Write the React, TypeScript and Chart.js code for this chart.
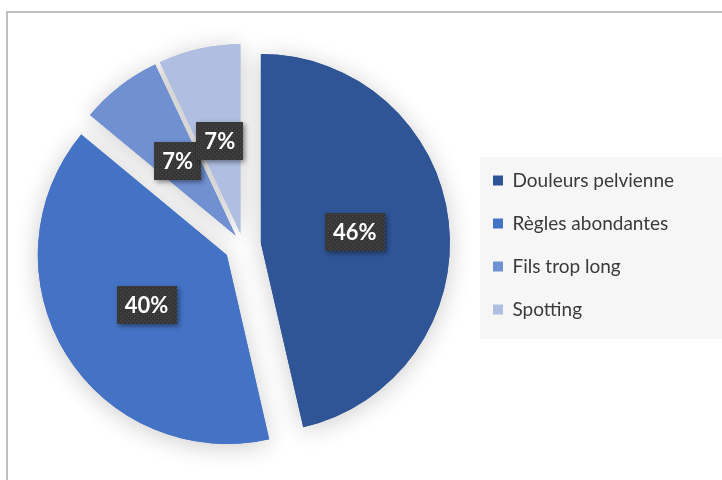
import React, { useEffect, useRef } from "react";
import { Chart, registerables } from "chart.js";

Chart.register(...registerables);

const categories = ["Douleurs pelvienne", "Règles abondantes", "Fils trop long", "Spotting"];
const values = [46.4, 39.6, 7, 7];
const sliceColors = ["#2f5597", "#4472c4", "#7090d1", "#afbee1"];

const FONT = "Lato, 'Open Sans', sans-serif";
const EXPLODE_OFFSETS = [18, 19, 12, 12];
const LEGEND_WIDTH = 253;

function makePattern(ctx: CanvasRenderingContext2D) {
  const c = document.createElement("canvas");
  c.width = 4;
  c.height = 4;
  const p = c.getContext("2d")!;
  p.fillStyle = "#363636";
  p.fillRect(0, 0, 4, 4);
  p.fillStyle = "#4e4e4e";
  p.fillRect(0, 0, 1, 1);
  p.fillRect(2, 2, 1, 1);
  return ctx.createPattern(c, "repeat") || "#3a3a3a";
}

const framePlugin = {
  id: "frame",
  beforeDraw(chart: any) {
    const ctx = chart.ctx as CanvasRenderingContext2D;
    ctx.save();
    ctx.fillStyle = "#ffffff";
    ctx.fillRect(0, 0, chart.width, chart.height);
    ctx.fillStyle = "#c0c0c0";
    ctx.fillRect(6, 11, chart.width - 6, 2);
    ctx.fillRect(6, 11, 2, chart.height - 11);
    const lg = chart.legend;
    if (lg) {
      ctx.fillStyle = "#f6f6f6";
      ctx.fillRect(lg.left + 11, 157, chart.width - lg.left - 11, 182);
    }
    ctx.restore();
  },
};

const legendWidthPlugin = {
  id: "legendWidth",
  beforeLayout(chart: any) {
    const lg = chart.legend;
    if (lg && !lg._fixedWidth) {
      const orig = lg.fit;
      lg.fit = function () {
        orig.call(this);
        this.width = LEGEND_WIDTH;
      };
      lg._fixedWidth = true;
    }
  },
};

const explodePlugin = {
  id: "explode",
  beforeDatasetDraw(chart: any, args: any) {
    const ctx = chart.ctx as CanvasRenderingContext2D;
    const arcs = args.meta.data;
    const pass = (shadow: boolean) => {
      arcs.forEach((arc: any, i: number) => {
        const { startAngle, endAngle } = arc.getProps(["startAngle", "endAngle"], true);
        const mid = (startAngle + endAngle) / 2;
        const off = EXPLODE_OFFSETS[i] || 0;
        ctx.save();
        if (shadow) {
          ctx.shadowColor = "rgba(0,0,0,0.2)";
          ctx.shadowBlur = 24;
          ctx.shadowOffsetX = 0;
          ctx.shadowOffsetY = 3;
        }
        ctx.translate(Math.cos(mid) * off, Math.sin(mid) * off);
        arc.draw(ctx, chart.chartArea);
        ctx.restore();
      });
    };
    pass(true);
    pass(false);
    return false;
  },
};

const labelPlugin = {
  id: "pctLabels",
  afterDatasetsDraw(chart: any) {
    const ctx = chart.ctx as CanvasRenderingContext2D;
    const meta = chart.getDatasetMeta(0);
    const data = chart.data.datasets[0].data as number[];
    const total = data.reduce((a, b) => a + b, 0);
    const pattern = makePattern(ctx);
    meta.data.forEach((arc: any, i: number) => {
      const { x, y, startAngle, endAngle, outerRadius } = arc.getProps(
        ["x", "y", "startAngle", "endAngle", "outerRadius"],
        true
      );
      const mid = (startAngle + endAngle) / 2;
      const dist = (EXPLODE_OFFSETS[i] || 0) + outerRadius * 0.5;
      const px = x + Math.cos(mid) * dist;
      const py = y + Math.sin(mid) * dist;
      const text = Math.round((data[i] / total) * 100) + "%";
      ctx.save();
      ctx.font = "bold 22px " + FONT;
      const w = ctx.measureText(text).width + 16;
      const h = 38;
      ctx.shadowColor = "rgba(0,0,0,0.45)";
      ctx.shadowBlur = 5;
      ctx.shadowOffsetX = 2;
      ctx.shadowOffsetY = 2;
      ctx.fillStyle = pattern;
      ctx.fillRect(Math.round(px - w / 2), Math.round(py - h / 2), Math.round(w), h);
      ctx.shadowColor = "transparent";
      ctx.fillStyle = "#ffffff";
      ctx.textAlign = "center";
      ctx.textBaseline = "middle";
      ctx.fillText(text, px, py + 1);
      ctx.restore();
    });
  },
};

export default function App() {
  const ref = useRef<HTMLCanvasElement>(null);
  useEffect(() => {
    const canvas = ref.current!;
    const chart = new Chart(canvas, {
      type: "pie",
      data: {
        labels: categories,
        datasets: [
          {
            data: values,
            backgroundColor: sliceColors,
            borderWidth: 0,
          },
        ],
      },
      options: {
        animation: false,
        responsive: false,
        events: [],
        layout: { padding: { left: 17, right: 0, top: 56, bottom: 46 } },
        plugins: {
          tooltip: { enabled: false },
          legend: {
            position: "right",
            labels: {
              boxWidth: 10,
              boxHeight: 10,
              padding: 24,
              color: "#3a3a3a",
              font: { family: FONT, size: 19 },
            },
          },
        },
      } as any,
      plugins: [framePlugin, legendWidthPlugin, explodePlugin, labelPlugin],
    });
    return () => chart.destroy();
  }, []);
  return (
    <canvas
      ref={ref}
      width={722}
      height={480}
      style={{ position: "fixed", left: 0, top: 0, width: 722, height: 480 }}
    />
  );
}
